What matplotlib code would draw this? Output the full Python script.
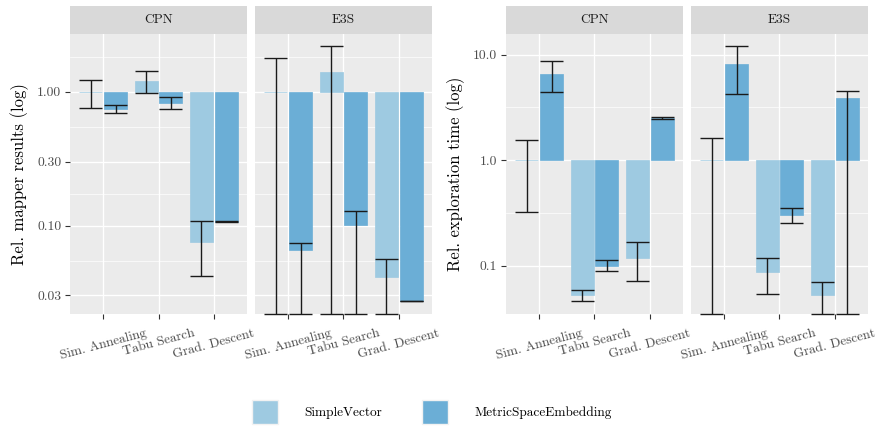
import numpy as np
import matplotlib
matplotlib.use('Agg')
import matplotlib.pyplot as plt
from matplotlib.patches import Patch

plt.rcParams['font.family'] = ['cmr10', 'DejaVu Serif']
plt.rcParams['axes.formatter.use_mathtext'] = True

algorithms = ['Sim. Annealing', 'Tabu Search', 'Grad. Descent']
benchmarks = ['CPN', 'E3S']
series = ['SimpleVector', 'MetricSpaceEmbedding']
colors = ['#9ECAE1', '#6BAED6']

# ---- Relative mapper results (0 lower bound = below the axis, drawn at edge)
mapper_cpn_sv_mean = [1.00, 1.21, 0.075]
mapper_cpn_sv_low = [0.756, 0.978, 0.042]
mapper_cpn_sv_high = [1.229, 1.442, 0.109]
mapper_cpn_mse_mean = [0.751, 0.832, 0.107]
mapper_cpn_mse_low = [0.693, 0.747, 0.106]
mapper_cpn_mse_high = [0.796, 0.922, 0.108]
mapper_e3s_sv_mean = [1.00, 1.41, 0.041]
mapper_e3s_sv_low = [0, 0, 0]
mapper_e3s_sv_high = [1.785, 2.195, 0.0564]
mapper_e3s_mse_mean = [0.0654, 0.1017, 0.0274]
mapper_e3s_mse_low = [0, 0, 0.0273]
mapper_e3s_mse_high = [0.0739, 0.1287, 0.0275]

# ---- Relative exploration time
time_cpn_sv_mean = [1.00, 0.0532, 0.120]
time_cpn_sv_low = [0.324, 0.0466, 0.0722]
time_cpn_sv_high = [1.566, 0.0590, 0.168]
time_cpn_mse_mean = [6.55, 0.100, 2.51]
time_cpn_mse_low = [4.43, 0.0897, 2.47]
time_cpn_mse_high = [8.66, 0.113, 2.57]
time_e3s_sv_mean = [1.00, 0.0878, 0.0526]
time_e3s_sv_low = [0, 0.0537, 0]
time_e3s_sv_high = [1.626, 0.118, 0.0706]
time_e3s_mse_mean = [8.15, 0.306, 3.88]
time_e3s_mse_low = [4.21, 0.255, 0]
time_e3s_mse_high = [11.98, 0.356, 4.52]

mapper_ticks = [0.03, 0.10, 0.30, 1.00]
mapper_ticklabels = ['0.03', '0.10', '0.30', '1.00']
time_ticks = [0.1, 1.0, 10.0]
time_ticklabels = ['0.1', '1.0', '10.0']

mapper_data = {
    'CPN': [(mapper_cpn_sv_mean, mapper_cpn_sv_low, mapper_cpn_sv_high),
            (mapper_cpn_mse_mean, mapper_cpn_mse_low, mapper_cpn_mse_high)],
    'E3S': [(mapper_e3s_sv_mean, mapper_e3s_sv_low, mapper_e3s_sv_high),
            (mapper_e3s_mse_mean, mapper_e3s_mse_low, mapper_e3s_mse_high)],
}
time_data = {
    'CPN': [(time_cpn_sv_mean, time_cpn_sv_low, time_cpn_sv_high),
            (time_cpn_mse_mean, time_cpn_mse_low, time_cpn_mse_high)],
    'E3S': [(time_e3s_sv_mean, time_e3s_sv_low, time_e3s_sv_high),
            (time_e3s_mse_mean, time_e3s_mse_low, time_e3s_mse_high)],
}

W, H = 878, 426
fig = plt.figure(figsize=(W / 100, H / 100), dpi=100)
fig.patch.set_facecolor('white')


def px_axes(x0, x1, y0, y1, **kw):
    return fig.add_axes([x0 / W, 1 - y1 / H, (x1 - x0) / W, (y1 - y0) / H], **kw)


def log_limits(data):
    vals = []
    for b in data.values():
        for m, lo, hi in b:
            vals += [v for v in m + lo + hi if v > 0]
    lo, hi = np.log10(min(vals)), np.log10(max(vals))
    pad = 0.05 * (hi - lo)
    return 10 ** (lo - pad), 10 ** (hi + pad)


def minor_breaks(ticks):
    lt = np.log10(ticks)
    ext = np.concatenate([[2 * lt[0] - lt[1]], lt, [2 * lt[-1] - lt[-2]]])
    return 10 ** ((ext[:-1] + ext[1:]) / 2)


def draw_plot(data, xs, ylabel, ylabel_x, ticks, ticklabels):
    ylim = log_limits(data)
    minors = minor_breaks(ticks)
    top, bottom = 33.5, 313.7
    x = np.arange(1, len(algorithms) + 1)
    offs = [-0.225, 0.225]
    bw = 0.415
    for i, (b, (x0, x1)) in enumerate(zip(benchmarks, xs)):
        ax = px_axes(x0, x1, top, bottom)
        ax.set_facecolor('#EBEBEB')
        ax.set_yscale('log')
        ax.set_xlim(0.4, len(algorithms) + 0.6)
        ax.set_ylim(*ylim)
        for m in minors:
            ax.axhline(m, color='white', lw=0.5, zorder=0.5)
        for t in ticks:
            ax.axhline(t, color='white', lw=0.95, zorder=0.6)
        for xv in x:
            ax.axvline(xv, color='white', lw=0.95, zorder=0.6)
        for s, (mean, low, high) in enumerate(data[b]):
            mean = np.array(mean, float)
            low = np.array(low, float)
            high = np.array(high, float)
            xp = x + offs[s]
            ax.bar(xp, mean - 1, bottom=1, width=bw, color=colors[s],
                   edgecolor=colors[s], linewidth=0.5, zorder=2)
            lowp = np.where(low > 0, low, ylim[0])
            ax.vlines(xp, lowp, high, color='#1A1A1A', lw=1.0, zorder=3)
            ax.hlines(np.concatenate([lowp, high]),
                      np.concatenate([xp - bw / 2] * 2),
                      np.concatenate([xp + bw / 2] * 2),
                      color='#1A1A1A', lw=1.0, zorder=3, clip_on=False)
        for sp in ax.spines.values():
            sp.set_visible(False)
        ax.set_xticks(x)
        ax.set_xticklabels(algorithms, rotation=15, ha='center', va='top',
                           fontsize=9.6, color='#4D4D4D')
        ax.minorticks_off()
        ax.set_yticks(ticks)
        if i == 0:
            ax.set_yticklabels(ticklabels, fontsize=9.8, color='#4D4D4D')
            ax.tick_params(axis='y', length=3.8, width=0.8, color='#333333', pad=2.5)
        else:
            ax.set_yticklabels([])
            ax.tick_params(axis='y', length=0)
        ax.tick_params(axis='x', length=3.8, width=0.8, color='#333333', pad=6)
        # strip
        st = px_axes(x0, x1, 6, top)
        st.set_facecolor('#D9D9D9')
        st.set_xticks([])
        st.set_yticks([])
        for sp in st.spines.values():
            sp.set_visible(False)
        st.text(0.5, 0.5, b, ha='center', va='center', fontsize=9.6,
                color='#1A1A1A', transform=st.transAxes)
    fig.text(ylabel_x / W, 1 - ((top + bottom) / 2) / H, ylabel, rotation=90,
             ha='center', va='center', fontsize=12, color='black')


draw_plot(mapper_data, [(70, 247), (255, 432)], 'Rel. mapper results (log)', 20,
          mapper_ticks, mapper_ticklabels)
draw_plot(time_data, [(506, 683), (691, 868)], 'Rel. exploration time (log)', 456,
          time_ticks, time_ticklabels)

handles = [Patch(facecolor=c, edgecolor='#F2F2F2', linewidth=1.0) for c in colors]
fig.legend(handles, series, loc='center', bbox_to_anchor=(432 / W, 1 - 412 / H),
           ncol=2, frameon=False, fontsize=9.6, handlelength=1.95, handleheight=2.4,
           handletextpad=1.95, columnspacing=3.0, borderpad=0.0)

fig.savefig('out.png', dpi=100)
